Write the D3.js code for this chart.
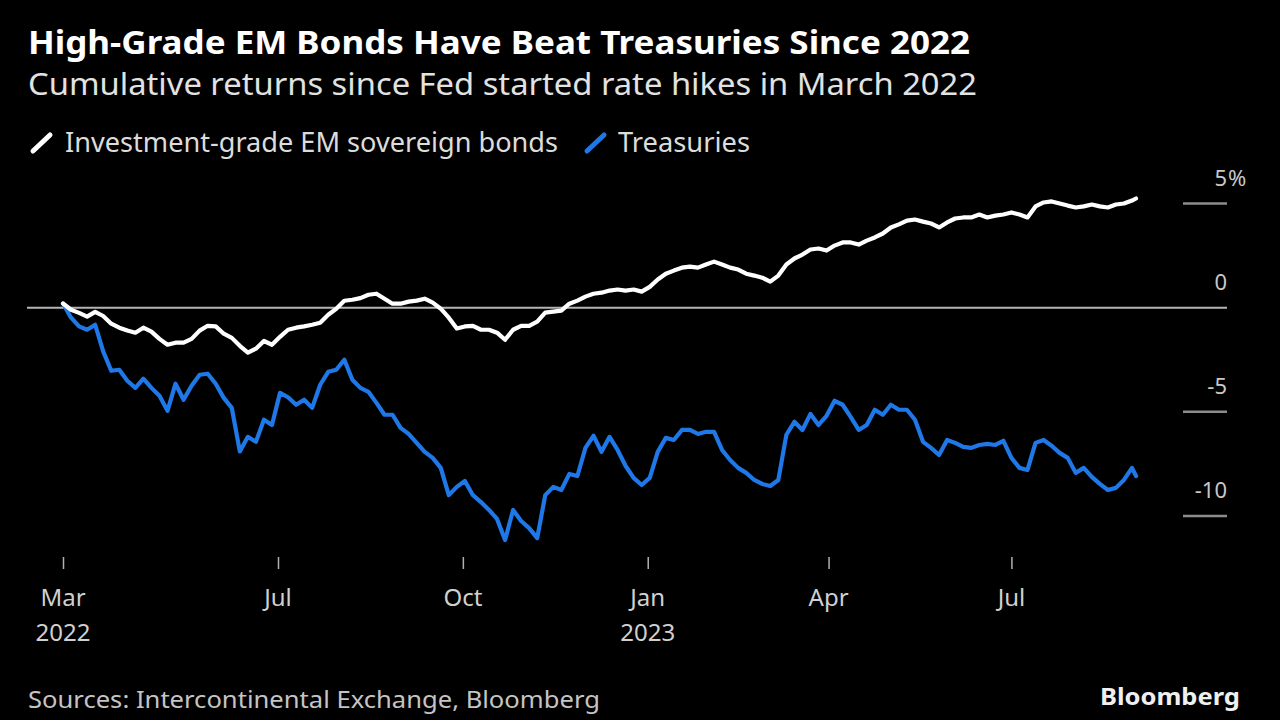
<!DOCTYPE html>
<html><head><meta charset="utf-8">
<script src="https://cdn.jsdelivr.net/npm/d3@7"></script>
<style>html,body{margin:0;padding:0;background:#000;overflow:hidden}svg{display:block}</style>
</head><body><svg id="c" width="1280" height="720"></svg>
<script>
// ---- data ----
const dates = ("2022-03-16 2022-03-20 2022-03-24 2022-03-28 2022-04-01 2022-04-05 2022-04-09 2022-04-13 2022-04-17 2022-04-21 " +
"2022-04-25 2022-04-29 2022-05-03 2022-05-07 2022-05-11 2022-05-15 2022-05-19 2022-05-23 2022-05-27 2022-05-31 " +
"2022-06-04 2022-06-08 2022-06-12 2022-06-16 2022-06-20 2022-06-24 2022-06-28 2022-07-02 2022-07-06 2022-07-10 " +
"2022-07-14 2022-07-18 2022-07-22 2022-07-26 2022-07-30 2022-08-03 2022-08-07 2022-08-11 2022-08-15 2022-08-19 " +
"2022-08-23 2022-08-27 2022-08-31 2022-09-04 2022-09-08 2022-09-12 2022-09-16 2022-09-20 2022-09-24 2022-09-28 " +
"2022-10-02 2022-10-06 2022-10-10 2022-10-14 2022-10-18 2022-10-22 2022-10-26 2022-10-30 2022-11-03 2022-11-07 " +
"2022-11-11 2022-11-15 2022-11-19 2022-11-23 2022-11-27 2022-12-01 2022-12-05 2022-12-09 2022-12-13 2022-12-17 " +
"2022-12-21 2022-12-25 2022-12-29 2023-01-02 2023-01-06 2023-01-10 2023-01-14 2023-01-18 2023-01-22 2023-01-26 " +
"2023-01-30 2023-02-03 2023-02-07 2023-02-11 2023-02-15 2023-02-19 2023-02-23 2023-02-27 2023-03-03 2023-03-07 " +
"2023-03-11 2023-03-15 2023-03-19 2023-03-23 2023-03-27 2023-03-31 2023-04-04 2023-04-08 2023-04-12 2023-04-16 " +
"2023-04-20 2023-04-24 2023-04-28 2023-05-02 2023-05-06 2023-05-10 2023-05-14 2023-05-18 2023-05-22 2023-05-26 " +
"2023-05-30 2023-06-03 2023-06-07 2023-06-11 2023-06-15 2023-06-19 2023-06-23 2023-06-27 2023-07-01 2023-07-05 " +
"2023-07-09 2023-07-13 2023-07-17 2023-07-21 2023-07-25 2023-07-29 2023-08-02 2023-08-06 2023-08-10 2023-08-14 " +
"2023-08-18 2023-08-22 2023-08-26 2023-08-30 2023-09-01").split(" ");

const emBonds = [0.2,-0.1,-0.25,-0.43,-0.2,-0.4,-0.77,-0.96,-1.1,-1.2,
-0.96,-1.15,-1.5,-1.78,-1.68,-1.68,-1.5,-1.1,-0.87,-0.9,
-1.25,-1.45,-1.83,-2.16,-1.97,-1.6,-1.78,-1.4,-1.06,-0.96,
-0.9,-0.82,-0.72,-0.34,-0.05,0.33,0.38,0.46,0.62,0.67,
0.43,0.19,0.19,0.29,0.34,0.43,0.24,-0.05,-0.48,-1.0,
-0.9,-0.87,-1.06,-1.06,-1.2,-1.54,-1.06,-0.87,-0.87,-0.67,
-0.24,-0.19,-0.14,0.19,0.34,0.53,0.67,0.72,0.82,0.87,
0.82,0.87,0.77,1.0,1.35,1.63,1.78,1.92,1.97,1.92,
2.07,2.21,2.07,1.92,1.83,1.63,1.54,1.44,1.25,1.54,
2.07,2.36,2.55,2.79,2.84,2.74,2.98,3.13,3.13,3.03,
3.22,3.37,3.56,3.85,4.0,4.18,4.23,4.13,4.04,3.85,
4.09,4.28,4.33,4.33,4.47,4.33,4.42,4.47,4.57,4.47,
4.33,4.86,5.05,5.1,5.0,4.9,4.81,4.86,4.95,4.86,
4.81,4.95,5.0,5.14,5.24];

const treasuries = [0.2,-0.48,-0.9,-1.06,-0.82,-2.1,-3.03,-2.98,-3.51,-3.85,
-3.41,-3.85,-4.23,-4.95,-3.65,-4.42,-3.75,-3.22,-3.17,-3.65,
-4.33,-4.81,-6.9,-6.2,-6.44,-5.38,-5.63,-4.09,-4.3,-4.66,
-4.42,-4.81,-3.7,-3.08,-2.98,-2.5,-3.46,-3.85,-4.04,-4.57,
-5.14,-5.14,-5.77,-6.06,-6.49,-6.92,-7.21,-7.69,-9.0,-8.6,
-8.32,-9.0,-9.33,-9.71,-10.14,-11.15,-9.71,-10.24,-10.58,-11.06,
-9.0,-8.6,-8.75,-7.98,-8.08,-6.73,-6.15,-6.92,-6.2,-6.83,
-7.6,-8.17,-8.51,-8.17,-6.92,-6.25,-6.35,-5.87,-5.87,-6.06,
-5.96,-5.96,-6.83,-7.31,-7.69,-7.93,-8.27,-8.46,-8.56,-8.27,
-6.1,-5.48,-5.87,-5.1,-5.63,-5.19,-4.47,-4.66,-5.24,-5.87,
-5.63,-4.9,-5.14,-4.66,-4.9,-4.9,-5.38,-6.44,-6.73,-7.07,
-6.35,-6.49,-6.68,-6.73,-6.59,-6.54,-6.59,-6.39,-7.21,-7.69,
-7.79,-6.49,-6.35,-6.63,-6.97,-7.21,-7.93,-7.69,-8.12,-8.46,
-8.75,-8.65,-8.27,-7.69,-8.08];

const seriesNames = ["Investment-grade EM sovereign bonds", "Treasuries"];
const seriesColors = ["#ffffff", "#1f78e8"];

const xTickDates = ["2022-03-16","2022-07-01","2022-10-01","2023-01-01","2023-04-01","2023-07-01"];
const xTickMonths = ["Mar","Jul","Oct","Jan","Apr","Jul"];
const xTickYears = ["2022","","","2023","",""];

const yTicks = [5, 0, -5, -10];
const yTickLabels = ["5", "0", "-5", "-10"];

const title = "High-Grade EM Bonds Have Beat Treasuries Since 2022";
const subtitle = "Cumulative returns since Fed started rate hikes in March 2022";
const source = "Sources: Intercontinental Exchange, Bloomberg";

// ---- chart ----
const FONT = "'Noto Sans', 'Open Sans', sans-serif";
const svg = d3.select("#c");
svg.append("rect").attr("width",1280).attr("height",720).attr("fill","#000");

const parse = d3.timeParse("%Y-%m-%d");
const x = d3.scaleTime().domain([parse(dates[0]), parse(dates[dates.length-1])]).range([63, 1136]);
const y = d3.scaleLinear().domain([-10, 5]).range([516, 203.5]);

// titles
svg.append("text").attr("x",28).attr("y",54).text(title)
  .attr("font-family",FONT).attr("font-weight",700).attr("font-size",32)
  .attr("fill","#fff").attr("textLength",942).attr("lengthAdjust","spacingAndGlyphs");
svg.append("text").attr("x",28).attr("y",95).text(subtitle)
  .attr("font-family",FONT).attr("font-size",30)
  .attr("fill","#e2e2e2").attr("textLength",949).attr("lengthAdjust","spacingAndGlyphs");

// legend
const legendX = [[33, 65, 493], [587, 618, 132]];
seriesNames.forEach((n,i) => {
  const [sx, tx, tl] = legendX[i];
  svg.append("line").attr("x1",sx).attr("y1",151).attr("x2",sx+17).attr("y2",135)
    .attr("stroke",seriesColors[i]).attr("stroke-width",5).attr("stroke-linecap","round");
  svg.append("text").attr("x",tx).attr("y",152).text(n)
    .attr("font-family",FONT).attr("font-size",27).attr("fill","#dcdcdc")
    .attr("textLength",tl).attr("lengthAdjust","spacingAndGlyphs");
});

// y grid / ticks
const yg = svg.append("g");
yTicks.forEach((t,i) => {
  yg.append("line")
    .attr("x1", t === 0 ? 27 : 1183).attr("x2",1227)
    .attr("y1", y(t)).attr("y2", y(t))
    .attr("stroke", t === 0 ? "#b4b4b4" : "#8c8c8c").attr("stroke-width", t === 0 ? 2 : 2.5);
  yg.append("text").attr("x",1227).attr("y",y(t)-18).attr("text-anchor","end")
    .text(yTickLabels[i]).attr("font-family",FONT).attr("font-size",22).attr("fill","#c8c8c8");
  if (i === 0) {
    yg.append("text").attr("x",1228).attr("y",y(t)-18).text("%")
      .attr("font-family",FONT).attr("font-size",22).attr("fill","#c8c8c8");
  }
});

// x axis
const xAxis = d3.axisBottom(x)
  .tickValues(xTickDates.map(parse))
  .tickSize(12).tickFormat("");
const xg = svg.append("g").attr("transform","translate(0,557)").call(xAxis);
xg.select(".domain").remove();
xg.selectAll(".tick line").attr("stroke","#b0b0b0").attr("stroke-width",1.5);
xTickDates.forEach((d,i) => {
  const t = svg.append("text").attr("x", x(parse(d))).attr("text-anchor","middle")
    .attr("font-family",FONT).attr("font-size",24).attr("fill","#d0d0d0");
  t.append("tspan").attr("x", x(parse(d))).attr("y",606).text(xTickMonths[i]);
  if (xTickYears[i]) t.append("tspan").attr("x", x(parse(d))).attr("y",641).text(xTickYears[i]);
});

// lines
const line = d3.line().x((d,i) => x(parse(dates[i]))).y(d => y(d)).curve(d3.curveLinear);
[treasuries, emBonds].forEach((s, j) => {
  const col = j === 0 ? seriesColors[1] : seriesColors[0];
  svg.append("path").datum(s).attr("d", line)
    .attr("fill","none").attr("stroke",col).attr("stroke-width",4.2)
    .attr("stroke-linejoin","round").attr("stroke-linecap","round");
});

// footer
svg.append("text").attr("x",28).attr("y",708).text(source)
  .attr("font-family",FONT).attr("font-size",23).attr("fill","#c4c4c4")
  .attr("textLength",572).attr("lengthAdjust","spacingAndGlyphs");
svg.append("text").attr("x",1240).attr("y",705).attr("text-anchor","end").text("Bloomberg")
  .attr("font-family",FONT).attr("font-weight",700).attr("font-size",24).attr("fill","#f0f0f0")
  .attr("textLength",140).attr("lengthAdjust","spacingAndGlyphs");
</script></body></html>
